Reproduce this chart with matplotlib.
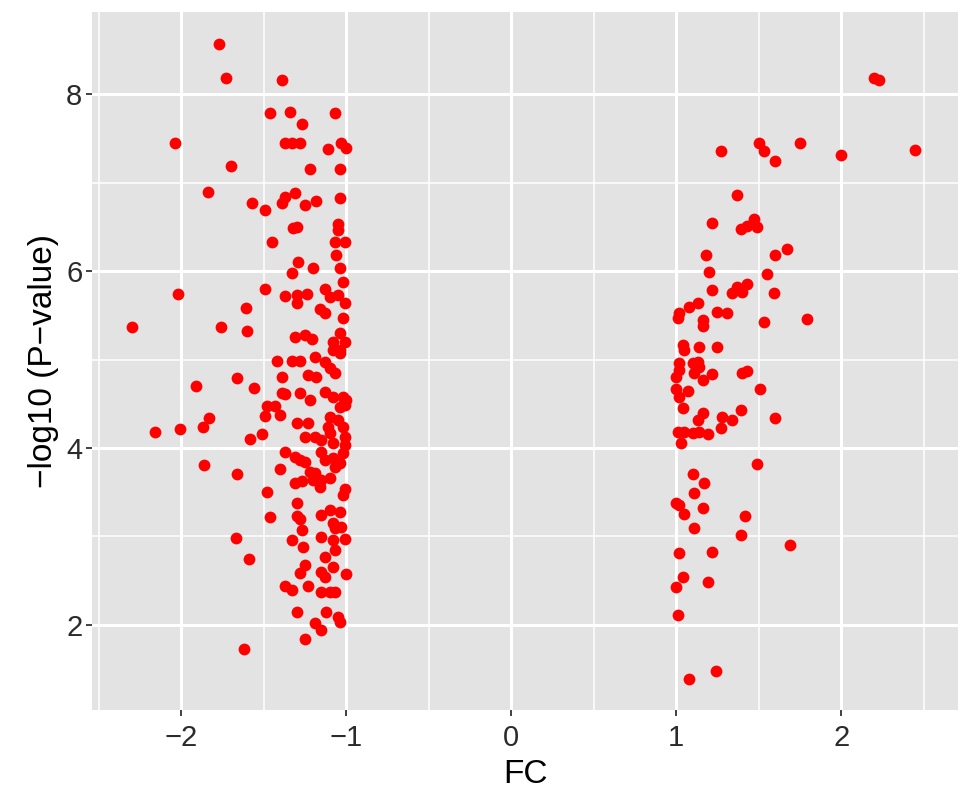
import matplotlib
matplotlib.use("Agg")
import matplotlib.pyplot as plt
from matplotlib.ticker import MultipleLocator

# down-regulated genes (FC <= -1)
fc_down = [
    -1.77, -1.73, -1.39, -1.46, -1.34, -1.07, -1.27, -2.04, -1.37, -1.33,
    -1.28, -1.11, -1.03, -1.00, -1.70, -1.22, -1.04, -1.84, -1.57, -1.49,
    -1.39, -1.37, -1.31, -1.25, -1.18, -1.04, -1.32, -1.30, -1.05, -1.05,
    -1.45, -1.07, -1.01, -1.06, -1.29, -1.33, -1.20, -1.04, -1.02, -1.49,
    -1.13, -2.02, -1.37, -1.30, -1.24, -1.30, -1.10, -1.05, -1.01, -1.16,
    -1.13, -1.61, -1.02, -2.30, -1.76, -1.60, -1.31, -1.25, -1.21, -1.04,
    -1.08, -1.01, -1.04, -1.08, -1.42, -1.33, -1.28, -1.19, -1.13, -1.10,
    -1.07, -1.04, -1.66, -1.39, -1.23, -1.18, -1.91, -1.56, -1.39, -1.37,
    -1.28, -1.22, -1.13, -1.08, -1.02, -1.00, -1.04, -1.01, -1.48, -1.43,
    -1.40, -1.49, -1.83, -1.87, -2.16, -2.01, -1.58, -1.51, -1.30, -1.23,
    -1.25, -1.11, -1.10, -1.15, -1.05, -1.02, -1.01, -1.08, -1.01, -1.19,
    -1.10, -1.37, -1.31, -1.28, -1.25, -1.15, -1.13, -1.08, -1.04, -1.02,
    -1.07, -1.40, -1.86, -1.66, -1.22, -1.19, -1.15, -1.16, -1.20, -1.31,
    -1.27, -1.48, -1.01, -1.02, -1.10, -1.30, -1.46, -1.30, -1.28, -1.15,
    -1.10, -1.04, -1.08, -1.07, -1.03, -1.27, -1.67, -1.33, -1.26, -1.15,
    -1.08, -1.01, -1.07, -1.13, -1.08, -1.15, -1.13, -1.59, -1.25, -1.28,
    -1.00, -1.37, -1.33, -1.23, -1.15, -1.10, -1.07, -1.30, -1.12, -1.05,
    -1.04, -1.19, -1.15, -1.25, -1.62,
]
p_down = [
    8.57, 8.18, 8.16, 7.79, 7.80, 7.79, 7.66, 7.45, 7.45, 7.45,
    7.45, 7.38, 7.45, 7.39, 7.19, 7.15, 7.15, 6.89, 6.77, 6.69,
    6.77, 6.84, 6.88, 6.75, 6.79, 6.83, 6.49, 6.50, 6.53, 6.47,
    6.33, 6.33, 6.33, 6.18, 6.10, 5.98, 6.03, 6.03, 5.88, 5.80,
    5.80, 5.74, 5.72, 5.73, 5.74, 5.64, 5.71, 5.73, 5.64, 5.57,
    5.53, 5.58, 5.47, 5.37, 5.37, 5.32, 5.25, 5.28, 5.23, 5.30,
    5.20, 5.20, 5.11, 5.11, 4.98, 4.98, 4.98, 5.03, 4.97, 4.90,
    4.85, 5.07, 4.79, 4.80, 4.82, 4.80, 4.70, 4.68, 4.62, 4.61,
    4.62, 4.54, 4.63, 4.58, 4.58, 4.54, 4.46, 4.49, 4.48, 4.48,
    4.37, 4.36, 4.34, 4.24, 4.18, 4.21, 4.10, 4.16, 4.28, 4.28,
    4.12, 4.24, 4.17, 4.09, 4.32, 4.24, 4.12, 4.06, 4.03, 4.12,
    4.35, 3.96, 3.90, 3.86, 3.84, 3.96, 3.86, 3.89, 3.83, 3.94,
    3.79, 3.76, 3.81, 3.71, 3.73, 3.72, 3.64, 3.56, 3.64, 3.60,
    3.63, 3.50, 3.54, 3.47, 3.66, 3.38, 3.22, 3.23, 3.20, 3.24,
    3.30, 3.28, 3.15, 3.10, 3.11, 3.07, 2.98, 2.96, 2.88, 2.99,
    2.96, 2.97, 2.85, 2.77, 2.66, 2.60, 2.54, 2.75, 2.68, 2.59,
    2.57, 2.44, 2.40, 2.44, 2.37, 2.37, 2.37, 2.14, 2.14, 2.09,
    2.03, 2.02, 1.94, 1.84, 1.73,
]

# up-regulated genes (FC >= 1)
fc_up = [
    1.27, 1.50, 1.53, 1.60, 1.75, 2.00, 2.20, 2.23, 2.45, 1.37,
    1.22, 1.47, 1.39, 1.43, 1.49, 1.18, 1.67, 1.60, 1.20, 1.55,
    1.22, 1.34, 1.37, 1.43, 1.40, 1.59, 1.02, 1.08, 1.13, 1.01,
    1.25, 1.31, 1.16, 1.16, 1.53, 1.79, 1.04, 1.05, 1.14, 1.25,
    1.02, 1.10, 1.13, 1.14, 1.02, 1.00, 1.11, 1.16, 1.22, 1.40,
    1.43, 1.51, 1.00, 1.02, 1.07, 1.04, 1.16, 1.13, 1.28, 1.34,
    1.39, 1.60, 1.01, 1.05, 1.10, 1.14, 1.19, 1.27, 1.03, 1.49,
    1.10, 1.17, 1.11, 1.00, 1.02, 1.05, 1.16, 1.42, 1.11, 1.39,
    1.69, 1.02, 1.22, 1.04, 1.19, 1.00, 1.01, 1.24, 1.08,
]
p_up = [
    7.36, 7.45, 7.36, 7.25, 7.45, 7.31, 8.18, 8.16, 7.37, 6.86,
    6.54, 6.59, 6.48, 6.51, 6.50, 6.18, 6.25, 6.18, 5.99, 5.97,
    5.79, 5.75, 5.82, 5.86, 5.76, 5.75, 5.53, 5.59, 5.64, 5.47,
    5.54, 5.53, 5.45, 5.38, 5.43, 5.46, 5.16, 5.11, 5.14, 5.14,
    4.96, 4.96, 4.97, 4.92, 4.88, 4.80, 4.85, 4.77, 4.84, 4.85,
    4.87, 4.67, 4.67, 4.58, 4.64, 4.45, 4.40, 4.32, 4.35, 4.32,
    4.43, 4.34, 4.18, 4.18, 4.17, 4.18, 4.16, 4.23, 4.06, 3.82,
    3.71, 3.60, 3.49, 3.38, 3.36, 3.25, 3.32, 3.23, 3.10, 3.02,
    2.90, 2.81, 2.82, 2.54, 2.49, 2.43, 2.11, 1.48, 1.39,
]

plt.rcParams["font.family"] = ["Liberation Sans", "DejaVu Sans"]

fig = plt.figure(figsize=(9.69, 8.02), dpi=100)
ax = fig.add_axes([0.095, 0.115, 0.894, 0.87])

ax.set_facecolor("#E3E3E3")
ax.scatter(fc_down + fc_up, p_down + p_up, s=72, color="red",
           linewidths=0, zorder=3)

ax.set_xlim(-2.54, 2.71)
ax.set_ylim(1.04, 8.93)
ax.xaxis.set_major_locator(MultipleLocator(1))
ax.xaxis.set_minor_locator(MultipleLocator(0.5))
ax.yaxis.set_major_locator(MultipleLocator(2))
ax.yaxis.set_minor_locator(MultipleLocator(1))

ax.grid(which="major", color="white", linewidth=2.2, zorder=0)
ax.grid(which="minor", color="white", linewidth=1.1, zorder=0)
ax.set_axisbelow(True)
for s in ax.spines.values():
    s.set_visible(False)

ax.tick_params(which="major", length=4, width=1.3, color="#333333",
               labelsize=21, labelcolor="#2B2B2B", pad=3)
ax.tick_params(axis="x", which="major", pad=6)
ax.tick_params(which="minor", length=0)

ax.set_xlabel("FC", fontsize=24, labelpad=5)
ax.set_ylabel("−log10 (P−value)", fontsize=24, labelpad=5)

fig.savefig("out.png", dpi=100)
